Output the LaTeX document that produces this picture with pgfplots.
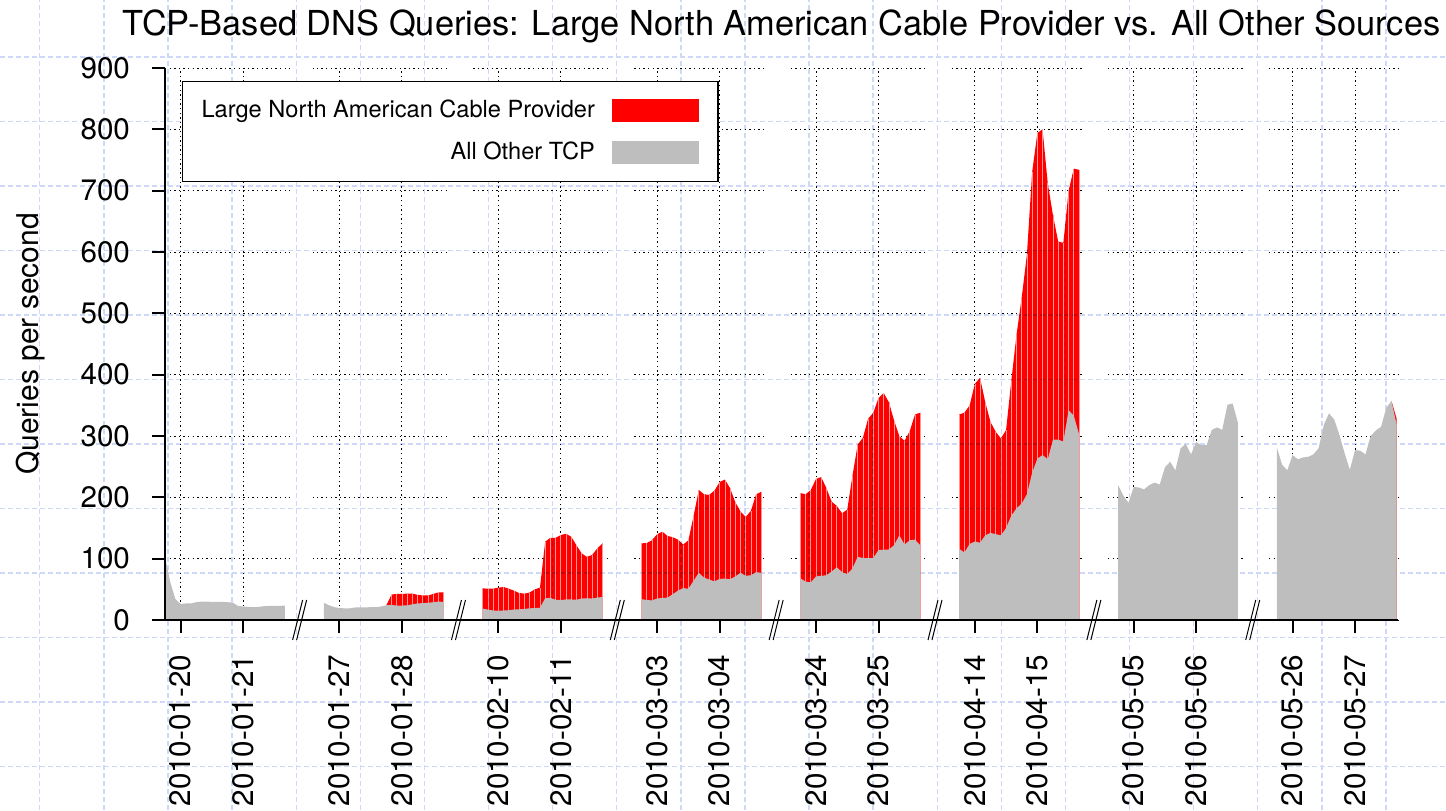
\documentclass[border=0pt]{standalone}
\usepackage{fontspec}
\setmainfont{TeX Gyre Heros}
\usepackage{pgfplots}
\pgfplotsset{compat=1.18}
\usepackage{pgfplotstable}
\definecolor{cable}{RGB}{255,0,0}
\definecolor{other}{RGB}{190,190,190}
\definecolor{seam}{RGB}{255,150,150}
\definecolor{paper}{RGB}{206,216,248}

\pgfplotstableread{
h g
0 103
2 62
4 34
6 26
8 27
10 27
12 29
14 30
16 30
18 29.5
20 29.5
22 29.5
24 29
26 28.5
28 23
30 22
32 21.5
34 21
36 21.5
38 22.5
40 23
42 23
44 23
46 23.5
}\segA

\pgfplotstableread{
h g
0 28
2 24
4 21
6 19.5
8 19
10 19
12 20.5
14 20.5
16 20.5
18 21
20 21
22 22
24 24
26 24.5
28 23.5
30 23.5
32 24
34 25.5
36 27
38 27.5
40 28
42 29
44 30
46 29.5
}\segB

\pgfplotstableread{
h t
24 24
26 41.5
28 42.5
30 42.5
32 43
34 43
36 41
38 40
40 40
42 42.5
44 45
46 45
}\segBred

\pgfplotstableread{
h g t
0 18.5 51.6
2 17 51
4 15.5 51
6 15 52.7
8 15.5 53.8
10 16 51
12 17 47.8
14 17.5 44
16 18 43
18 19 44.7
20 19.5 50
22 20 52.7
24 35.5 127.7
26 36 134
28 33 134
30 32.5 138.5
32 33.5 140.7
34 33.5 135.8
36 33 122
38 35 108.7
40 35.5 103
42 35 105.9
44 36.5 116.7
46 37.5 125
}\segC

\pgfplotstableread{
h g t
0 34 125
2 32.5 125.5
4 32 130
6 35 140
8 36 144
10 36.5 137
12 42 135
14 48 131
16 52 123
18 51 130
20 64 170
22 77 212
24 69 205
26 66 204
28 63 211
30 67 225
32 67.5 229
34 66.5 215
36 71 192
38 77 177
40 72 168
42 73 178
44 78 205
46 77 209
}\segD

\pgfplotstableread{
h g t
0 68 207
2 62.5 205
4 61.5 212
6 71 230
8 72 233
10 73 215
12 79 193
14 86 186
16 78 174
18 75 180
20 84 235
22 103 286
24 101 297
26 101 328
28 101 338
30 114 362
32 114.5 370
34 115 355
36 122 325
38 138 300
40 123 292
42 130 308
44 131 335
46 122 338
}\segE

\pgfplotstableread{
h g t
0 116 335
2 110 338
4 124 350
6 128 385
8 126 395
10 138 355
12 142 323
14 140 307
16 138 296
18 150 310
20 170 390
22 182 465
24 190 526
26 205 596
28 240 730
30 263 794
32 269 800
34 262 712
36 294 660
38 294 617
40 291 615
42 342 700
44 333 736
46 303 734
}\segF

\pgfplotstableread{
h g
0 220
2 203
4 191
6 217
8 216
10 213
12 220
14 224
16 221
18 249
20 258
22 244
24 280
26 287
28 270
30 290
32 285
34 285
36 310
38 314
40 310
42 351
44 353
46 322
}\segG

\pgfplotstableread{
h g
0 281
2 253
4 244
6 269
8 262
10 265
12 266
14 270
16 280
18 318
20 337
22 327
24 302
26 272
28 245
30 277
32 276
34 270
36 300
38 309
40 315
42 346
44 357
46 318
}\segH

\pgfplotstableread{
h t
44 357
46 328
}\segHred

\begin{document}
\begin{tikzpicture}
\begin{axis}[
  set layers, axis on top,
  scale only axis, width=616.5pt, height=276pt,
  xmin=0, xmax=473.5, ymin=0, ymax=900,
  axis x line*=bottom, axis y line*=left,
  axis line style={line width=1pt, black},
  clip=false,
  xtick={6,30,67,91,128,152,189,213,250,274,311,335,372,396,433,457},
  xticklabels={2010-01-20,2010-01-21,2010-01-27,2010-01-28,2010-02-10,2010-02-11,2010-03-03,2010-03-04,2010-03-24,2010-03-25,2010-04-14,2010-04-15,2010-05-05,2010-05-06,2010-05-26,2010-05-27},
  ytick={0,100,...,900},
  tick align=outside,
  major tick length=6.5pt,
  every tick/.style={black, line width=1pt},
  xmajorgrids, ymajorgrids,
  major grid style={/pgfplots/on layer=axis background, black, line width=0.5pt, dash pattern=on 0.7pt off 1.6pt},
  tick label style={font=\fontsize{14.8}{17}\selectfont},
  /pgf/number format/assume math mode=true,
  xticklabel style={yshift=-7.5pt, rotate=90, anchor=east},
  yticklabel style={anchor=east, xshift=-7.5pt},
  title={TCP-Based DNS Queries: Large North American Cable Provider vs. All Other Sources},
  title style={font=\fontsize{17.2}{20}\selectfont, at={(axis description cs:0.5,1)}, anchor=base, yshift=10.5pt},
  ylabel={Queries per second},
  ylabel style={font=\fontsize{15}{17}\selectfont, at={(axis description cs:-0.1022,0.5)}, anchor=base},
  legend style={at={(axis description cs:0.0138,0.9764)}, anchor=north west, draw=black, line width=0.6pt, fill=white, inner xsep=9.5pt, inner ysep=8.75pt, row sep=9.5pt, font=\fontsize{11.8}{14}\selectfont, nodes={inner sep=0pt}},
  legend cell align=right,
  legend plot pos=right,
  legend image code/.code={\path (0pt,0pt); \fill[#1] (8.5pt,-5.75pt) rectangle (52pt,5.75pt);},
]
% gaps in the horizontal grid between segments
\fill[white] (axis cs:48,3) rectangle (axis cs:57,910);
\fill[white] (axis cs:109,3) rectangle (axis cs:118,910);
\fill[white] (axis cs:170,3) rectangle (axis cs:179,910);
\fill[white] (axis cs:231,3) rectangle (axis cs:240,910);
\fill[white] (axis cs:292,3) rectangle (axis cs:301,910);
\fill[white] (axis cs:353,3) rectangle (axis cs:362,910);
\fill[white] (axis cs:414,3) rectangle (axis cs:423,910);

\addlegendimage{fill=cable, draw=none}
\addlegendentry{Large North American Cable Provider}
\addlegendimage{fill=other, draw=none}
\addlegendentry{All Other TCP}

% segment 1
\addplot[fill=other, draw=none, forget plot] table[x=h, y=g] {\segA} \closedcycle;
% segment 2
\addplot[fill=cable, draw=none, forget plot] table[x expr=\thisrow{h}+61, y=t] {\segBred} \closedcycle;
\addplot[ycomb, seam, line width=0.35pt, no markers, forget plot] table[x expr=\thisrow{h}+61, y=t] {\segBred};
\addplot[fill=other, draw=none, forget plot] table[x expr=\thisrow{h}+61, y=g] {\segB} \closedcycle;
% segment 3
\addplot[fill=cable, draw=none, forget plot] table[x expr=\thisrow{h}+122, y=t] {\segC} \closedcycle;
\addplot[ycomb, seam, line width=0.35pt, no markers, forget plot] table[x expr=\thisrow{h}+122, y=t] {\segC};
\addplot[fill=other, draw=none, forget plot] table[x expr=\thisrow{h}+122, y=g] {\segC} \closedcycle;
% segment 4
\addplot[fill=cable, draw=none, forget plot] table[x expr=\thisrow{h}+183, y=t] {\segD} \closedcycle;
\addplot[ycomb, seam, line width=0.35pt, no markers, forget plot] table[x expr=\thisrow{h}+183, y=t] {\segD};
\addplot[fill=other, draw=none, forget plot] table[x expr=\thisrow{h}+183, y=g] {\segD} \closedcycle;
% segment 5
\addplot[fill=cable, draw=none, forget plot] table[x expr=\thisrow{h}+244, y=t] {\segE} \closedcycle;
\addplot[ycomb, seam, line width=0.35pt, no markers, forget plot] table[x expr=\thisrow{h}+244, y=t] {\segE};
\addplot[fill=other, draw=none, forget plot] table[x expr=\thisrow{h}+244, y=g] {\segE} \closedcycle;
% segment 6
\addplot[fill=cable, draw=none, forget plot] table[x expr=\thisrow{h}+305, y=t] {\segF} \closedcycle;
\addplot[ycomb, seam, line width=0.35pt, no markers, forget plot] table[x expr=\thisrow{h}+305, y=t] {\segF};
\addplot[fill=other, draw=none, forget plot] table[x expr=\thisrow{h}+305, y=g] {\segF} \closedcycle;
% segment 7
\addplot[fill=other, draw=none, forget plot] table[x expr=\thisrow{h}+366, y=g] {\segG} \closedcycle;
% segment 8
\addplot[fill=cable, draw=none, forget plot] table[x expr=\thisrow{h}+427, y=t] {\segHred} \closedcycle;
\addplot[fill=other, draw=none, forget plot] table[x expr=\thisrow{h}+427, y=g] {\segH} \closedcycle;

\coordinate (b0) at (axis cs:51.7,0);
\coordinate (b1) at (axis cs:112.7,0);
\coordinate (b2) at (axis cs:173.7,0);
\coordinate (b3) at (axis cs:234.7,0);
\coordinate (b4) at (axis cs:295.7,0);
\coordinate (b5) at (axis cs:356.7,0);
\coordinate (b6) at (axis cs:417.7,0);
\end{axis}
% axis breaks
\foreach \b in {b0,b1,b2,b3,b4,b5,b6}{
  \fill[white] ([shift={(-3.5pt,-10pt)}]\b) -- ([shift={(1.5pt,10pt)}]\b) -- ([shift={(3.5pt,10pt)}]\b) -- ([shift={(-1.5pt,-10pt)}]\b) -- cycle;
  \draw[black, line width=0.5pt] ([shift={(-3.5pt,-10pt)}]\b) -- ([shift={(1.5pt,10pt)}]\b);
  \draw[black, line width=0.5pt] ([shift={(-1.5pt,-10pt)}]\b) -- ([shift={(3.5pt,10pt)}]\b);
}
% faint graph-paper background pattern
\begin{scope}[blend mode=darken]
\foreach \n in {0,...,11}{
  \draw[paper, line width=0.7pt, dash pattern=on 2.5pt off 1.5pt] (-82.5pt,{(620-57-64.5*\n)*0.5pt}) -- (640.5pt,{(620-57-64.5*\n)*0.5pt});
}
\foreach \n in {0,...,22}{
  \draw[paper, line width=0.7pt, dash pattern=on 2.5pt off 1.5pt] ({(39.8+64.1*\n-165)*0.5pt},-95pt) -- ({(39.8+64.1*\n-165)*0.5pt},310pt);
}
\end{scope}
\pgfresetboundingbox
\path (-82.5pt,-95pt) rectangle (640.5pt,310pt);
\end{tikzpicture}
\end{document}
